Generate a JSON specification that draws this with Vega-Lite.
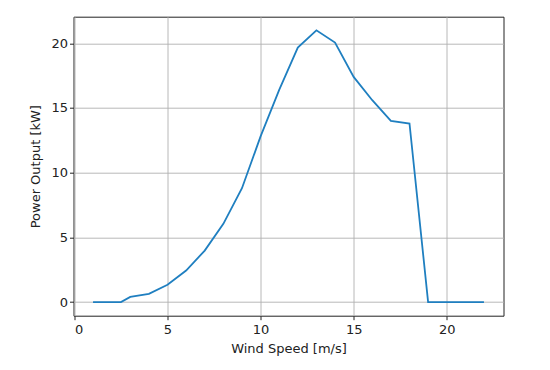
{
  "$schema": "https://vega.github.io/schema/vega-lite/v6.json",
  "width": 430,
  "height": 299,
  "autosize": {"type": "none"},
  "padding": {"left": 73.5, "top": 16.7, "right": 46.5, "bottom": 54.3},
  "background": "white",
  "config": {
    "view": {"stroke": "#222222", "strokeWidth": 1},
    "axis": {
      "labelFont": "DejaVu Sans",
      "titleFont": "DejaVu Sans",
      "labelFontSize": 13,
      "titleFontSize": 13,
      "labelColor": "#222222",
      "titleColor": "#222222",
      "titleFontWeight": "normal",
      "gridColor": "#b0b0b0",
      "gridWidth": 0.9,
      "gridOpacity": 1,
      "domain": false,
      "tickColor": "#222222",
      "tickSize": 4,
      "tickWidth": 1
    }
  },
  "data": {
    "values": [
      {"wind": 1, "power": 0},
      {"wind": 2, "power": 0},
      {"wind": 2.5, "power": 0},
      {"wind": 3, "power": 0.4},
      {"wind": 4, "power": 0.64},
      {"wind": 5, "power": 1.34},
      {"wind": 6, "power": 2.44},
      {"wind": 7, "power": 3.98},
      {"wind": 8, "power": 6.05},
      {"wind": 9, "power": 8.8},
      {"wind": 10, "power": 12.8},
      {"wind": 11, "power": 16.4},
      {"wind": 12, "power": 19.66},
      {"wind": 13, "power": 21.0},
      {"wind": 14, "power": 20.05},
      {"wind": 15, "power": 17.4},
      {"wind": 16, "power": 15.6},
      {"wind": 17, "power": 14.0},
      {"wind": 18, "power": 13.8},
      {"wind": 19, "power": 0},
      {"wind": 20, "power": 0},
      {"wind": 21, "power": 0},
      {"wind": 22, "power": 0}
    ]
  },
  "mark": {"type": "line", "color": "#1f7fc0", "strokeWidth": 1.8},
  "encoding": {
    "x": {
      "field": "wind",
      "type": "quantitative",
      "scale": {"domain": [-0.05, 23.05], "nice": false, "zero": false},
      "axis": {"values": [0, 5, 10, 15, 20], "title": "Wind Speed [m/s]", "labelPadding": 4, "titlePadding": 6}
    },
    "y": {
      "field": "power",
      "type": "quantitative",
      "scale": {"domain": [-1.05, 22.05], "nice": false, "zero": false},
      "axis": {"values": [0, 5, 10, 15, 20], "title": "Power Output [kW]", "labelPadding": 2, "titlePadding": 8}
    }
  }
}
